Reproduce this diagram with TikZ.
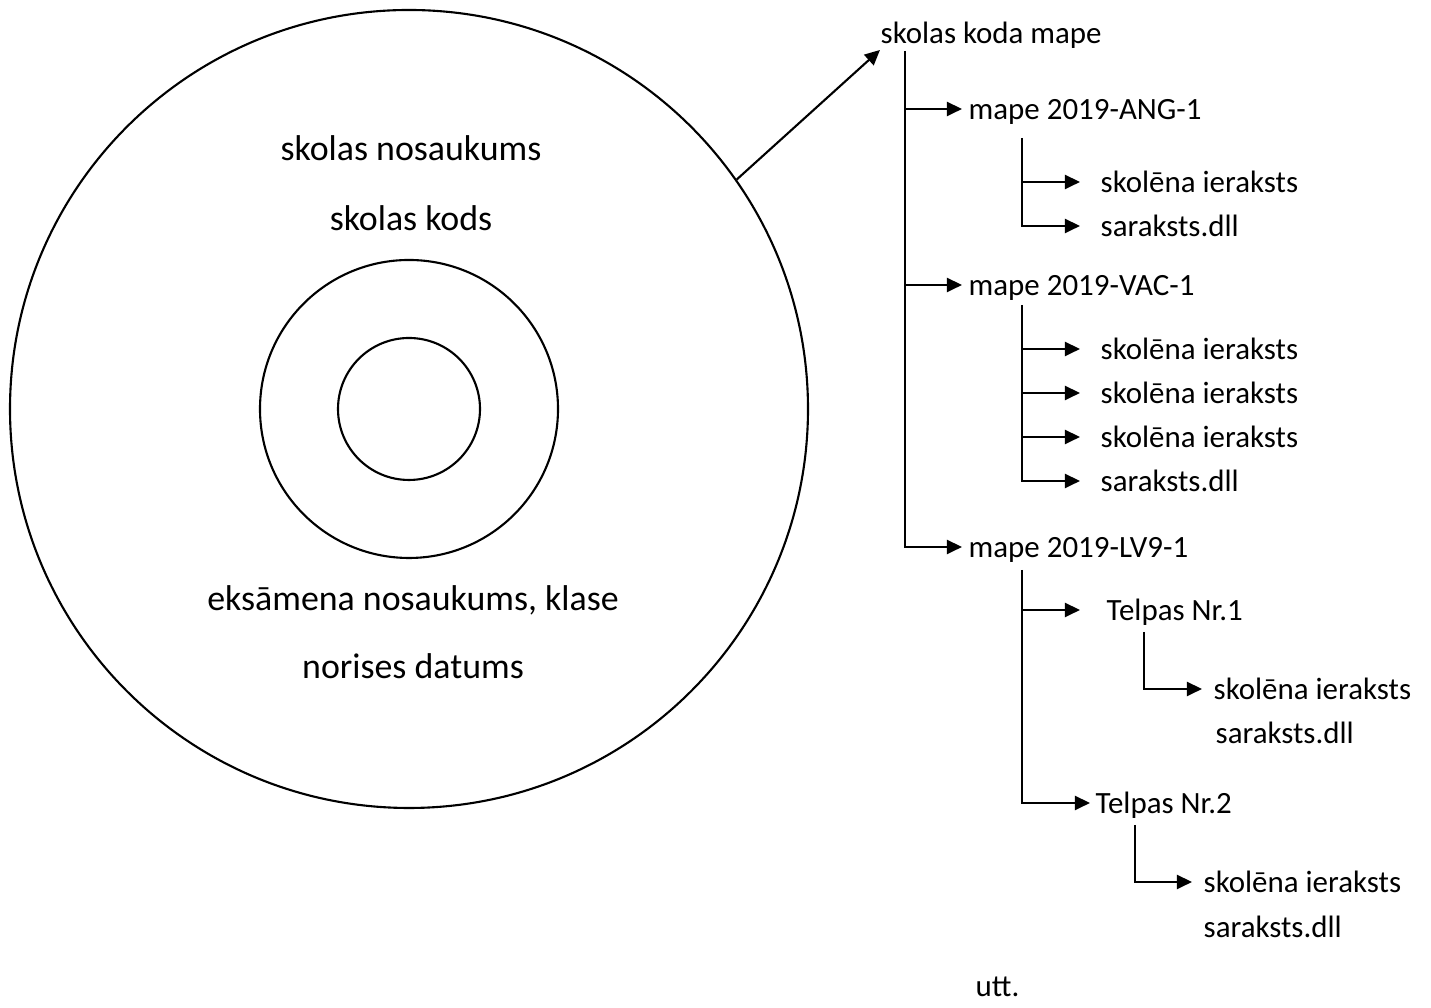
\documentclass[tikz,border=0pt]{standalone}
\usepackage{fontspec}
\setmainfont{Carlito}
\usetikzlibrary{arrows.meta}
\tikzset{
  disk/.style={draw, circle, line width=0.6pt, inner sep=0pt},
  disklabel/.style={anchor=base, inner sep=0pt, font=\fontsize{10.2}{12}\selectfont},
  entry/.style={anchor=west, inner ysep=0pt, text height=7.5pt, text depth=1.5pt, font=\fontsize{8.8}{10}\selectfont},
  link/.style={line width=0.6pt, -{Triangle[length=4.3pt,width=4pt]}}
}
\begin{document}
\begin{tikzpicture}
        \useasboundingbox (0,0) rectangle (14.31,10.08);
        % the disc
        \node[disk, minimum size=7.98cm] (disc) at (4.09,5.99) {};
        \node[disk, minimum size=2.98cm] (ring) at (4.09,5.99) {};
        \node[disk, minimum size=1.42cm] (hole) at (4.09,5.99) {};
        \node[disklabel] (nosauk) at (4.11,8.47) {skolas nosaukums};
        \node[disklabel] (kods) at (4.11,7.77) {skolas kods};
        \node[disklabel] (eksam) at (4.13,3.97) {eksāmena nosaukums, klase};
        \node[disklabel] (datums) at (4.13,3.29) {norises datums};
        % folder tree
        \node[entry, anchor=base west, inner xsep=0pt] (root) at (8.80,9.64) {skolas koda mape};
        \draw[link] (disc.35) -- (root.south west);
        \coordinate (t0) at (9.05,9.57);
        \node[entry, inner xsep=0.06cm] (ang) at (9.62,8.99) {mape 2019-ANG-1};
        \node[entry, inner xsep=0.06cm] (vac) at (9.62,7.23) {mape 2019-VAC-1};
        \node[entry, inner xsep=0.06cm] (lv) at (9.62,4.61) {mape 2019-LV9-1};
        \draw[link] (t0) |- (lv.west);
        \draw[link] (t0 |- ang.west) -- (ang.west);
        \draw[link] (t0 |- vac.west) -- (vac.west);
        % ANG
        \coordinate (t1) at (10.22,8.70);
        \node[entry, inner xsep=0.2cm] (a1) at (10.80,8.26) {skolēna ieraksts};
        \node[entry, inner xsep=0.2cm] (a2) at (10.80,7.82) {saraksts.dll};
        \draw[link] (t1) |- (a2.west);
        \draw[link] (t1 |- a1.west) -- (a1.west);
        % VAC
        \coordinate (t2) at (10.22,7.03);
        \node[entry, inner xsep=0.2cm] (v1) at (10.80,6.59) {skolēna ieraksts};
        \node[entry, inner xsep=0.2cm] (v2) at (10.80,6.15) {skolēna ieraksts};
        \node[entry, inner xsep=0.2cm] (v3) at (10.80,5.71) {skolēna ieraksts};
        \node[entry, inner xsep=0.2cm] (v4) at (10.80,5.27) {saraksts.dll};
        \draw[link] (t2) |- (v4.west);
        \draw[link] (t2 |- v1.west) -- (v1.west);
        \draw[link] (t2 |- v2.west) -- (v2.west);
        \draw[link] (t2 |- v3.west) -- (v3.west);
        % LV9
        \coordinate (t3) at (10.22,4.38);
        \node[entry, inner xsep=0.26cm] (room1) at (10.80,3.98) {Telpas Nr.1};
        \node[entry, inner xsep=0.05cm] (room2) at (10.90,2.05) {Telpas Nr.2};
        \draw[link] (t3) |- (room2.west);
        \draw[link] (t3 |- room1.west) -- (room1.west);
        \coordinate (t4) at (11.44,3.76);
        \node[entry, inner xsep=0.11cm] (r1a) at (12.02,3.19) {skolēna ieraksts};
        \node[entry, anchor=base west, inner xsep=0pt] (r1b) at (12.15,2.64) {saraksts.dll};
        \draw[link] (t4) |- (r1a.west);
        \coordinate (t5) at (11.35,1.83);
        \node[entry, inner xsep=0.11cm] (r2a) at (11.92,1.26) {skolēna ieraksts};
        \node[entry, anchor=base west, inner xsep=0pt] (r2b) at (12.03,0.70) {saraksts.dll};
        \draw[link] (t5) |- (r2a.west);
        \node[entry, anchor=base west, inner xsep=0pt] (utt) at (9.75,0.11) {utt.};
\end{tikzpicture}
\end{document}
